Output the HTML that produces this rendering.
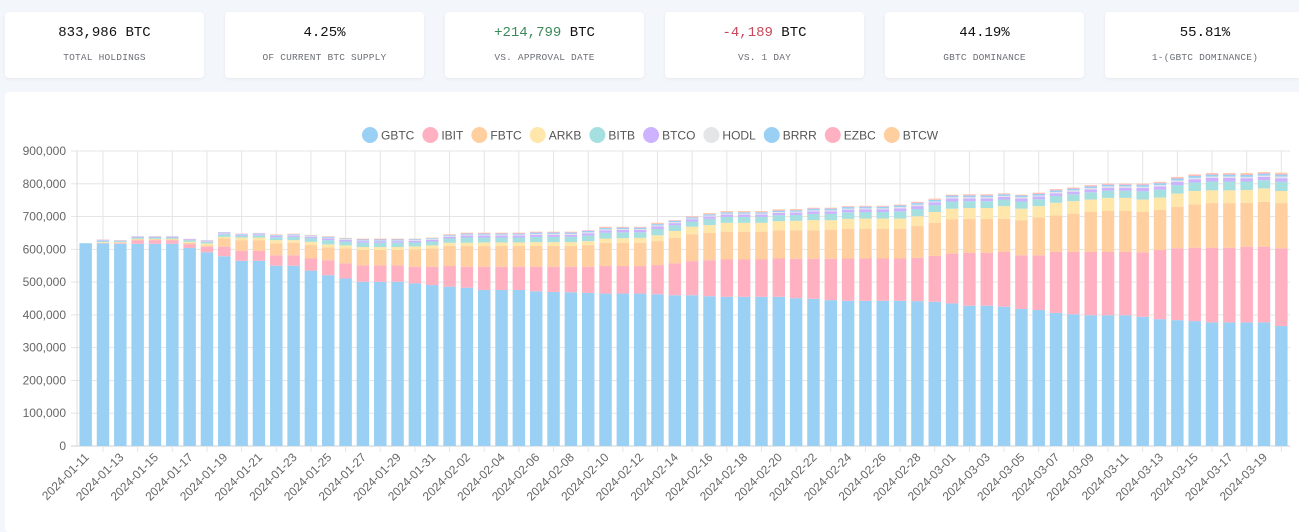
<!DOCTYPE html>
<html><head><meta charset="utf-8">
<style>
body{margin:0;background:#f3f6fb;width:1299px;height:526px;overflow:hidden;font-family:"Liberation Sans",sans-serif;}
.card{position:absolute;top:12px;height:66px;width:199px;background:#fff;border-radius:4px;box-shadow:0 1px 3px rgba(0,0,0,0.06);text-align:center;font-family:"Liberation Mono",monospace;}
.val{position:absolute;top:13px;left:0;right:0;font-size:14px;color:#111;}
.lbl{position:absolute;top:40px;left:0;right:0;font-size:9.5px;color:#6b6f76;letter-spacing:0.2px;}
.g{color:#3a8a5a}.r{color:#c8485a}
#chartcard{position:absolute;left:5px;top:92px;width:1300px;height:440px;background:#fff;border-radius:4px;}
svg{position:absolute;left:0;top:0;}
</style></head><body>
<div class="card" style="left:5px"><div class="val">833,986 BTC</div><div class="lbl">TOTAL HOLDINGS</div></div>
<div class="card" style="left:225px"><div class="val">4.25%</div><div class="lbl">OF CURRENT BTC SUPPLY</div></div>
<div class="card" style="left:445px"><div class="val"><span class="g">+214,799</span> BTC</div><div class="lbl">VS. APPROVAL DATE</div></div>
<div class="card" style="left:665px"><div class="val"><span class="r">-4,189</span> BTC</div><div class="lbl">VS. 1 DAY</div></div>
<div class="card" style="left:885px"><div class="val">44.19%</div><div class="lbl">GBTC DOMINANCE</div></div>
<div class="card" style="left:1105px;width:200px"><div class="val">55.81%</div><div class="lbl">1-(GBTC DOMINANCE)</div></div>
<div id="chartcard"></div>
<svg id="chart" width="1299" height="526"></svg>
<script>
// values in thousands of BTC
const UNIT = 1000;
const seriesNames = ["GBTC","IBIT","FBTC","ARKB","BITB","BTCO","HODL","BRRR","EZBC","BTCW"];
const seriesColors = ["#9BD0F5","#FFB1C1","#FFCF9F","#FFE6AA","#A5DFDF","#CCB2FF","#E4E5E7","#9BD0F5","#FFB1C1","#FFCF9F"];
const GBTC = [618,618,617,617,617,617,604,591,579,565,565,550,550,535,521,511,501,501,501,496,491,486,483,476,476,476,472,470,469,467,465,465,465,463,460,460,457,455,455,455,455,451,449,445,443,443,443,443,442,440,435,428,428,425,418,415,406,402,399,399,399,394,387,384,381,377,377,377,377,366];
const IBIT = [0,1,2,11,11,11,12,17,29,30,30,32,32,37,46,46,50,50,50,51,56,63,64,71,71,71,75,77,78,80,84,84,84,89,97,104,110,114,114,114,117,120,122,126,129,129,129,129,132,140,152,161,161,167,164,167,186,190,193,193,193,197,211,219,224,228,228,231,231,237];
const FBTC = [0,1,2,2,2,2,4,4,25,33,33,36,38,41,39,46,47,47,47,53,56,62,63,63,63,63,63,63,63,66,71,71,71,73,78,82,83,85,85,85,86,87,87,89,91,91,91,91,97,101,104,104,104,101,107,115,112,117,122,125,125,123,122,127,132,136,136,134,137,138];
const ARKB = [0,2,1,2,2,2,3,6,5,8,8,10,8,10,9,9,9,9,9,9,9,9,10,11,11,11,12,12,12,12,13,14,15,18,21,23,24,27,27,27,28,29,31,29,30,31,31,31,30,33,33,33,33,39,35,35,38,38,38,40,40,38,38,40,41,39,39,39,41,37];
const BITB = [1,4,3,4,4,4,5,5,8,6,7,9,10,11,13,12,13,13,13,12,12,13,16,15,15,15,16,16,16,17,18,18,17,19,17,16,19,18,18,18,18,18,19,19,20,20,20,22,22,21,22,21,21,20,22,21,21,21,22,22,22,25,24,26,26,27,27,26,25,28];
const BTCO = [0,2,1,2,2,2,2,2,3,2,3,4,4,4,5,5,5,5,5,5,5,5,6,6,6,6,6,6,6,7,7,7,7,8,7,6,7,7,7,7,7,7,8,8,8,8,8,9,9,8,9,8,8,8,9,8,8,8,9,9,9,10,10,10,10,11,11,10,10,11];
const HODL = [0,0,0,0,0,0,0,1,1,1,1,1,2,2,2,2,2,2,2,2,2,2,3,3,3,3,3,3,3,3,3,3,3,3,3,3,3,3,3,3,3,3,3,3,3,3,3,4,4,3,4,4,4,3,4,3,4,4,4,4,4,4,4,4,4,4,4,4,4,5];
const BRRR = [0,1,1,1,1,1,1,1,2,2,2,2,2,2,3,2,3,3,3,3,3,3,3,3,3,3,4,4,4,4,4,4,4,4,4,4,4,4,4,4,4,4,5,5,5,5,5,5,5,5,5,5,5,5,5,5,5,5,5,5,5,6,6,6,6,6,6,6,6,6];
const EZBC = [0,1,1,1,1,1,1,1,1,1,1,1,1,1,1,1,2,2,2,1,1,2,2,2,2,2,2,2,2,2,2,2,2,2,2,2,2,2,2,2,2,2,2,2,2,2,2,2,3,2,2,3,3,2,2,3,3,3,3,3,3,3,3,3,3,3,3,3,3,3];
const BTCW = [0,0,0,0,0,0,0,0,0,0,0,1,1,1,1,1,1,1,1,1,1,1,1,1,1,1,1,1,1,0,2,1,1,2,0,1,2,2,2,2,2,2,1,1,1,1,1,1,1,2,1,1,1,1,1,1,1,1,1,1,1,1,1,2,2,2,2,3,2,3];
const yTicks = [0,100000,200000,300000,400000,500000,600000,700000,800000,900000];
const startDate = "2024-01-11";
const allSeries = [GBTC,IBIT,FBTC,ARKB,BITB,BTCO,HODL,BRRR,EZBC,BTCW];

const dates = [];
{ let d = new Date(startDate+"T00:00:00Z"); for (let i=0;i<GBTC.length;i++){ dates.push(d.toISOString().slice(0,10)); d = new Date(d.getTime()+86400000);} }

const svg = document.getElementById('chart');
const NS = "http://www.w3.org/2000/svg";
const L=77, R=1290, T=151, B=446, yMax=900000;
const n = dates.length, cw=(R-L)/n;
const xC = i => L + cw*(i+0.5);
const yS = v => B - (v/yMax)*(B-T);
function mk(tag, attrs){ const e=document.createElementNS(NS,tag); for(const k in attrs) e.setAttribute(k,attrs[k]); svg.appendChild(e); return e; }

yTicks.forEach(t=>{
  const ln = mk('line',{x1:L-6,x2:R,y1:yS(t),y2:yS(t),stroke:t===0?'#cfcfcf':'#e5e5e5','stroke-width':1});
  
  
  const tx = mk('text',{x:L-11,y:yS(t)+4,'text-anchor':'end','font-size':12,fill:'#666','font-family':'Liberation Sans, sans-serif'});
  tx.textContent = t.toLocaleString('en-US');
  
  
});
const ax = mk('line',{x1:L,x2:L,y1:T,y2:B,stroke:'#dcdcdc'});


for(let i=1;i<n;i+=2){
  const g = mk('line',{x1:xC(i),x2:xC(i),y1:T,y2:B+6,stroke:'#e5e5e5'});
  
  
}
const bw = cw*0.72;
for(let i=0;i<n;i++){
  let acc=0;
  allSeries.forEach((s,si)=>{
    const v = s[i]*UNIT; if(v<=0) return;
    const r = mk('rect',{x:xC(i)-bw/2,y:yS(acc+v),width:bw,height:yS(acc)-yS(acc+v),fill:seriesColors[si]});
    
    
    acc+=v;
  });
}
for(let i=0;i<n;i+=2){
  const x=xC(i), y=B+12;
  const tx = mk('text',{x:x+4,y:y,'text-anchor':'end','font-size':12,fill:'#666','font-family':'Liberation Sans, sans-serif',transform:`rotate(-45 ${x+4} ${y})`});
  tx.textContent = dates[i];
  
  
}
let lx = 362;
seriesNames.forEach((nm,si)=>{
  const c = mk('ellipse',{cx:lx+8,cy:135,rx:8,ry:8,fill:seriesColors[si]});
  
  
  const t = mk('text',{x:lx+19,y:139.5,'font-size':12,fill:'#555','font-family':'Liberation Sans, sans-serif'});
  t.textContent = nm;
  
  
  lx += 19 + t.getComputedTextLength() + 8;
});
</script>
</body></html>
